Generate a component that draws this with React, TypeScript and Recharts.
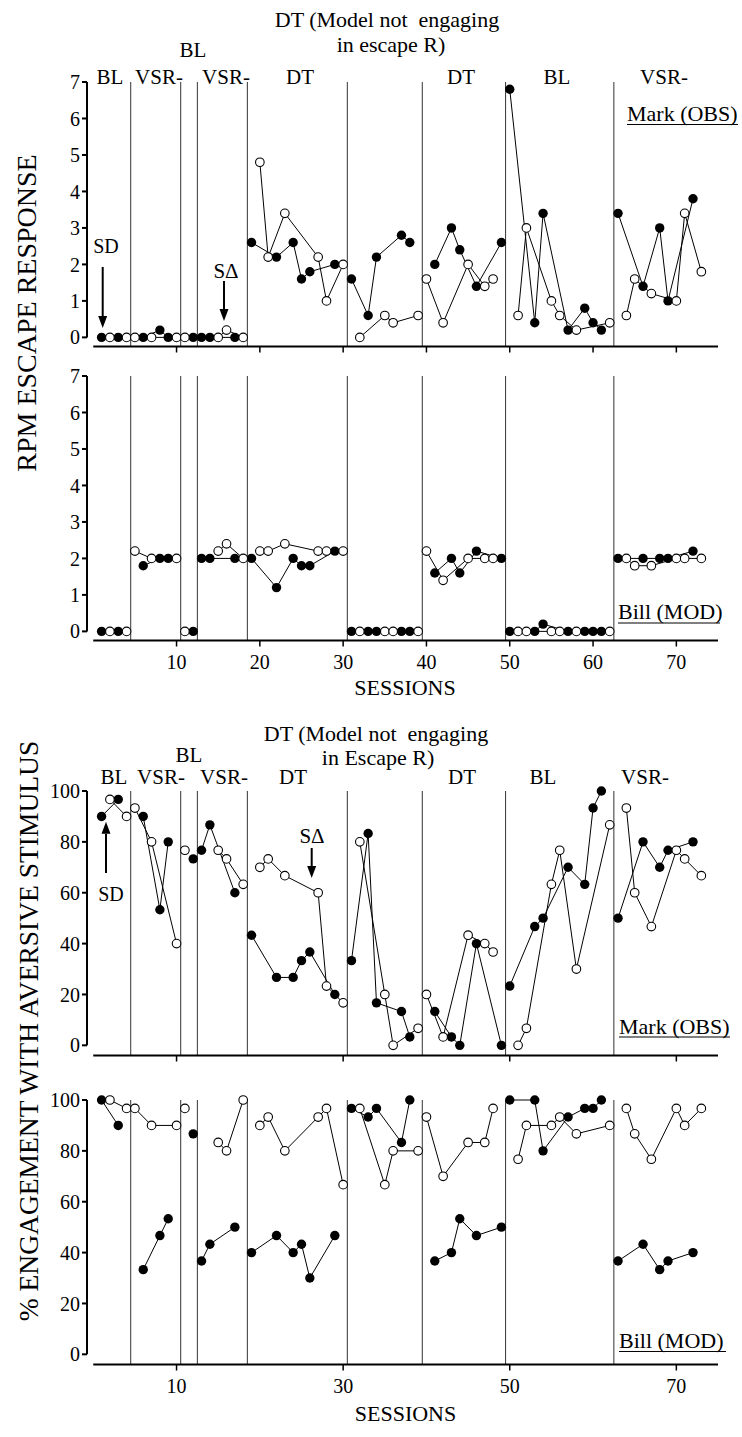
import React from "react";
import { LineChart, Line, XAxis, YAxis, ReferenceLine } from "recharts";

const SERIF = "Liberation Serif";

// phase change lines (between sessions)
const phaseChanges = [4.5, 10.5, 12.5, 18.5, 30.5, 39.5, 49.5, 62.5];

// sessions run under SD (filled) and SΔ (open)
const sdSessions = [1, 3, 6, 8, 9, 12, 13, 14, 17, 19, 22, 24, 25, 26, 29, 31, 33, 34, 37, 38, 41, 43, 44, 46, 49, 50, 53, 54, 57, 59, 60, 61, 63, 66, 68, 69, 72];
const sdeltaSessions = [2, 4, 5, 7, 10, 11, 15, 16, 18, 20, 21, 23, 27, 28, 30, 32, 35, 36, 39, 40, 42, 45, 47, 48, 51, 52, 55, 56, 58, 62, 64, 65, 67, 70, 71, 73];

// RPM escape response
const markRpmSD = [0, 0, 0, 0.2, 0, 0, 0, 0, 0, 2.6, 2.2, 2.6, 1.6, 1.8, 2.0, 1.6, 0.6, 2.2, 2.8, 2.6, 2.0, 3.0, 2.4, 1.4, 2.6, 6.8, 0.4, 3.4, 0.2, 0.8, 0.4, 0.2, 3.4, 1.4, 3.0, 1.0, 3.8];
const markRpmSDelta = [0, 0, 0, 0, 0, 0, 0, 0.2, 0, 4.8, 2.2, 3.4, 2.2, 1.0, 2.0, 0, 0.6, 0.4, 0.6, 1.6, 0.4, 2.0, 1.4, 1.6, 0.6, 3.0, 1.0, 0.6, 0.2, 0.4, 0.6, 1.6, 1.2, 1.0, 3.4, 1.8];
const billRpmSD = [0, 0, 1.8, 2.0, 2.0, 0, 2.0, 2.0, 2.0, 2.0, 1.2, 2.0, 1.8, 1.8, 2.2, 0, 0, 0, 0, 0, 1.6, 2.0, 1.6, 2.2, 2.0, 0, 0, 0.2, 0, 0, 0, 0, 2.0, 2.0, 2.0, 2.0, 2.2];
const billRpmSDelta = [0, 0, 2.2, 2.0, 2.0, 0, 2.2, 2.4, 2.0, 2.2, 2.2, 2.4, 2.2, 2.2, 2.2, 0, 0, 0, 0, 2.2, 1.4, 2.0, 2.0, 2.0, 0, 0, 0, 0, 0, 0, 2.0, 1.8, 1.8, 2.0, 2.0, 2.0];

// % engagement with aversive stimulus
const markEngSD = [90, 96.7, 90, 53.3, 80, 73.3, 76.7, 86.7, 60, 43.3, 26.7, 26.7, 33.3, 36.7, 20, 33.3, 83.3, 16.7, 13.3, 3.3, 13.3, 3.3, 0, 40, 0, 23.3, 46.7, 50, 70, 63.3, 93.3, 100, 50, 80, 70, 76.7, 80];
const markEngSDelta = [96.7, 90, 93.3, 80, 40, 76.7, 76.7, 73.3, 63.3, 70, 73.3, 66.7, 60, 23.3, 16.7, 80, 20, 0, 6.7, 20, 3.3, 43.3, 40, 36.7, 0, 6.7, 63.3, 76.7, 30, 86.7, 93.3, 60, 46.7, 76.7, 73.3, 66.7];
const billEngSD = [100, 90, 33.3, 46.7, 53.3, 86.7, 36.7, 43.3, 50, 40, 46.7, 40, 43.3, 30, 46.7, 96.7, 93.3, 96.7, 83.3, 100, 36.7, 40, 53.3, 46.7, 50, 100, 100, 80, 93.3, 96.7, 96.7, 100, 36.7, 43.3, 33.3, 36.7, 40];
const billEngSDelta = [100, 96.7, 96.7, 90, 90, 96.7, 83.3, 80, 100, 90, 93.3, 80, 93.3, 96.7, 66.7, 96.7, 66.7, 80, 80, 93.3, 70, 83.3, 83.3, 96.7, 76.7, 90, 90, 93.3, 86.7, 90, 96.7, 86.7, 76.7, 96.7, 90, 96.7];

const rpmTicks = [0, 1, 2, 3, 4, 5, 6, 7];
const pctTicks = [0, 20, 40, 60, 80, 100];
const sessionTicksFine = [10, 20, 30, 40, 50, 60, 70];
const sessionTicksCoarse = [10, 30, 50, 70];

const phaseOf = (s: number) => phaseChanges.filter((b) => s > b).length;
const phaseIdx = [0, 1, 2, 3, 4, 5, 6, 7, 8];

function buildRows(sdVals: number[], sdeltaVals: number[]) {
  const rows: Record<string, number>[] = [];
  for (let s = 1; s <= 73; s++) rows.push({ s });
  sdSessions.forEach((s, i) => {
    rows[s - 1]["f" + phaseOf(s)] = sdVals[i];
  });
  sdeltaSessions.forEach((s, i) => {
    rows[s - 1]["o" + phaseOf(s)] = sdeltaVals[i];
  });
  return rows;
}

const PLOT_H = 264.5;
const MT = 10;

interface PanelProps {
  sd: number[];
  sdelta: number[];
  top: number;
  yDomain: [number, number];
  yTicks: number[];
  xTicks: number[];
  labelled: boolean;
}

// tick marks only, no text
const NoLabel = () => <g />;

function Panel({ sd, sdelta, top, yDomain, yTicks, xTicks, labelled }: PanelProps) {
  const rows = buildRows(sd, sdelta);
  const xh = labelled ? 40 : 10;
  const tickFont = { fill: "#000", fontSize: 20, fontFamily: SERIF };
  return (
    <div style={{ position: "absolute", left: 0, top: top - MT }}>
      <LineChart
        width={742}
        height={MT + PLOT_H + xh}
        data={rows}
        margin={{ top: MT, right: 24, bottom: 0, left: 0 }}
      >
        <XAxis
          dataKey="s"
          type="number"
          domain={[-0.75, 75]}
          ticks={xTicks}
          interval={0}
          height={xh}
          axisLine={false}
          tickLine={{ stroke: "#000", strokeWidth: 1.5 }}
          tickSize={6}
          tickMargin={8}
          tick={labelled ? tickFont : NoLabel}
        />
        <YAxis
          type="number"
          domain={yDomain}
          ticks={yTicks}
          interval={0}
          width={87}
          axisLine={false}
          tickLine={{ stroke: "#000", strokeWidth: 2 }}
          tickSize={5}
          tickMargin={2}
          tick={tickFont}
        />
        {phaseChanges.map((p) => (
          <ReferenceLine key={p} x={p} stroke="#333" strokeWidth={1} />
        ))}
        <ReferenceLine
          segment={[{ x: -0.75, y: 0 }, { x: -0.75, y: yDomain[1] }]}
          stroke="#000"
          strokeWidth={2}
        />
        <ReferenceLine
          segment={[{ x: 0, y: yDomain[0] }, { x: 75, y: yDomain[0] }]}
          stroke="#000"
          strokeWidth={2}
        />
        {phaseIdx.map((p) => (
          <Line
            key={"f" + p}
            dataKey={"f" + p}
            stroke="#000"
            strokeWidth={1}
            connectNulls
            dot={{ r: 4.7, fill: "#000", stroke: "#000", strokeWidth: 0 }}
            activeDot={false}
            isAnimationActive={false}
            legendType="none"
          />
        ))}
        {phaseIdx.map((p) => (
          <Line
            key={"o" + p}
            dataKey={"o" + p}
            stroke="#000"
            strokeWidth={1}
            connectNulls
            dot={{ r: 4.3, fill: "#fff", stroke: "#000", strokeWidth: 1.1 }}
            activeDot={false}
            isAnimationActive={false}
            legendType="none"
          />
        ))}
      </LineChart>
    </div>
  );
}

function Arrow({ x, y1, y2 }: { x: number; y1: number; y2: number }) {
  // y2 is the tip
  const dir = y2 > y1 ? 1 : -1;
  const base = y2 - dir * 12;
  return (
    <g>
      <line x1={x} y1={y1} x2={x} y2={base} stroke="#000" strokeWidth={2} />
      <polygon points={`${x - 4.5},${base} ${x + 4.5},${base} ${x},${y2}`} fill="#000" />
    </g>
  );
}

export default function App() {
  const t = { style: { fontFamily: SERIF, whiteSpace: "pre" as const }, fill: "#000" };
  const row1 = 83.5;
  const row3 = 783.5;
  return (
    <div style={{ position: "absolute", left: 0, top: 0, width: 742, height: 1437, background: "#fff", fontFamily: SERIF }}>
      <Panel sd={markRpmSD} sdelta={markRpmSDelta} top={81.7} yDomain={[-0.25, 7]} yTicks={rpmTicks} xTicks={sessionTicksFine} labelled={false} />
      <Panel sd={billRpmSD} sdelta={billRpmSDelta} top={376} yDomain={[-0.25, 7]} yTicks={rpmTicks} xTicks={sessionTicksFine} labelled={true} />
      <Panel sd={markEngSD} sdelta={markEngSDelta} top={791} yDomain={[-4, 100]} yTicks={pctTicks} xTicks={sessionTicksCoarse} labelled={false} />
      <Panel sd={billEngSD} sdelta={billEngSDelta} top={1100} yDomain={[-4, 100]} yTicks={pctTicks} xTicks={sessionTicksCoarse} labelled={true} />

      <svg width={742} height={1437} style={{ position: "absolute", left: 0, top: 0, pointerEvents: "none" }}>
        {/* top RPM panel labels */}
        <text {...t} x={387} y={27} fontSize={22} textAnchor="middle">DT (Model not  engaging</text>
        <text {...t} x={391} y={52} fontSize={22} textAnchor="middle">in escape R)</text>
        <text {...t} x={193} y={57} fontSize={21} textAnchor="middle">BL</text>
        <text {...t} x={110} y={row1} fontSize={21} textAnchor="middle">BL</text>
        <text {...t} x={159} y={row1} fontSize={21} textAnchor="middle">VSR-</text>
        <text {...t} x={226} y={row1} fontSize={21} textAnchor="middle">VSR-</text>
        <text {...t} x={300} y={row1} fontSize={21} textAnchor="middle">DT</text>
        <text {...t} x={461} y={row1} fontSize={21} textAnchor="middle">DT</text>
        <text {...t} x={557} y={row1} fontSize={21} textAnchor="middle">BL</text>
        <text {...t} x={664} y={row1} fontSize={21} textAnchor="middle">VSR-</text>
        <text {...t} x={627} y={121} fontSize={22}>Mark (OBS)</text>
        <line x1={627} x2={738} y1={124.5} y2={124.5} stroke="#000" strokeWidth={1} />
        <text {...t} x={106} y={253} fontSize={20} textAnchor="middle">SD</text>
        <Arrow x={102.7} y1={267} y2={328} />
        <text {...t} x={226} y={278} fontSize={21} textAnchor="middle">SΔ</text>
        <Arrow x={224} y1={281} y2={321} />

        {/* bottom RPM panel labels */}
        <text {...t} x={618} y={619} fontSize={22}>Bill (MOD)</text>
        <line x1={618} x2={720} y1={623} y2={623} stroke="#000" strokeWidth={1} />
        <text {...t} x={405} y={695} fontSize={22} textAnchor="middle">SESSIONS</text>
        <text {...t} transform="translate(36,313) rotate(-90)" fontSize={28} textAnchor="middle">RPM ESCAPE RESPONSE</text>

        {/* top engagement panel labels */}
        <text {...t} x={376} y={741} fontSize={22} textAnchor="middle">DT (Model not  engaging</text>
        <text {...t} x={378} y={765} fontSize={22} textAnchor="middle">in Escape R)</text>
        <text {...t} x={189} y={762} fontSize={21} textAnchor="middle">BL</text>
        <text {...t} x={114} y={row3} fontSize={21} textAnchor="middle">BL</text>
        <text {...t} x={161} y={row3} fontSize={21} textAnchor="middle">VSR-</text>
        <text {...t} x={224} y={row3} fontSize={21} textAnchor="middle">VSR-</text>
        <text {...t} x={293} y={row3} fontSize={21} textAnchor="middle">DT</text>
        <text {...t} x={462} y={row3} fontSize={21} textAnchor="middle">DT</text>
        <text {...t} x={543} y={row3} fontSize={21} textAnchor="middle">BL</text>
        <text {...t} x={645} y={row3} fontSize={21} textAnchor="middle">VSR-</text>
        <text {...t} x={111} y={901} fontSize={20} textAnchor="middle">SD</text>
        <Arrow x={106} y1={873} y2={821.7} />
        <text {...t} x={312} y={843} fontSize={21} textAnchor="middle">SΔ</text>
        <Arrow x={311.7} y1={848} y2={878} />
        <text {...t} x={619} y={1033.5} fontSize={22}>Mark (OBS)</text>
        <line x1={619} x2={730} y1={1037} y2={1037} stroke="#000" strokeWidth={1} />

        {/* bottom engagement panel labels */}
        <text {...t} x={619} y={1348} fontSize={22}>Bill (MOD)</text>
        <line x1={619} x2={726} y1={1351.5} y2={1351.5} stroke="#000" strokeWidth={1} />
        <text {...t} x={405.5} y={1420.5} fontSize={22} textAnchor="middle">SESSIONS</text>
        <text {...t} transform="translate(38,1031) rotate(-90)" fontSize={27.5} textAnchor="middle">% ENGAGEMENT WITH AVERSIVE STIMULUS</text>
      </svg>
    </div>
  );
}
